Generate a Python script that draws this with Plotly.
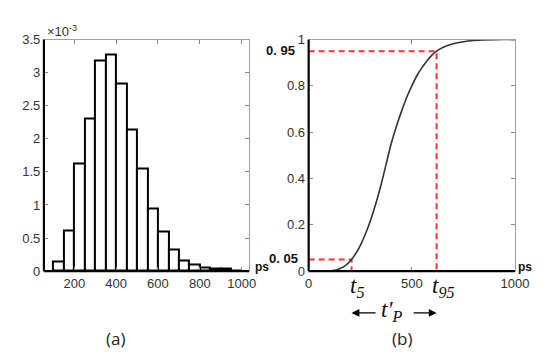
import plotly.graph_objects as go

# ---------------- data ----------------
bin_left = [100, 150, 200, 250, 300, 350, 400, 450, 500, 550,
            600, 650, 700, 750, 800, 850, 900, 950]
bin_width = 50
density_e3 = [0.15, 0.61, 1.63, 2.30, 3.19, 3.27, 2.83, 2.14, 1.55, 0.95,
              0.59, 0.33, 0.16, 0.095, 0.055, 0.03, 0.035, 0.01]

cdf_t = [0, 80, 120, 150, 180, 208, 230, 250, 275, 300, 325, 350, 375, 400,
         425, 450, 475, 500, 525, 550, 575, 600, 620, 650, 700, 750, 800, 900, 1000]
cdf_v = [0, 0, 0.002, 0.01, 0.025, 0.05, 0.078, 0.11, 0.16, 0.22, 0.29,
         0.37, 0.46, 0.55, 0.625, 0.69, 0.75, 0.80, 0.845, 0.88, 0.91, 0.935,
         0.95, 0.966, 0.982, 0.991, 0.996, 1.0, 1.0]

t5, t95 = 208, 620
p5, p95 = 0.05, 0.95

hist_xticks = [200, 400, 600, 800, 1000]
hist_yticks = [0, 0.5, 1, 1.5, 2, 2.5, 3, 3.5]
hist_ytext = ["0", "0.5", "1", "1.5", "2", "2.5", "3", "3.5"]
cdf_xticks = [0, 500, 1000]
cdf_yticks = [0, 0.2, 0.4, 0.6, 0.8, 1]
cdf_ytext = ["0", "0.2", "0.4", "0.6", "0.8", "1"]

# ---------------- layout geometry ----------------
W, H = 550, 357
ax1 = [33 / W, 245 / W]
ax2 = [306.7 / W, 520 / W]
ydom = [(H - 267.3) / H, (H - 25.7) / H]

tickfont = dict(family="Liberation Sans, Arial, sans-serif", size=13, color="#333333")

fig = go.Figure()

centers = [b + bin_width / 2 for b in bin_left]
fig.add_trace(go.Bar(
    x=centers, y=density_e3, width=[bin_width] * len(centers),
    marker=dict(color="white", line=dict(color="black", width=2)),
    xaxis="x", yaxis="y", showlegend=False, hoverinfo="skip"))

red = "#ff3030"
fig.add_trace(go.Scatter(x=[0, t95, t95], y=[p95, p95, 0], mode="lines",
                         line=dict(color=red, width=2, dash="6px,4px"),
                         xaxis="x2", yaxis="y2", showlegend=False))
fig.add_trace(go.Scatter(x=[0, t5, t5], y=[p5, p5, 0], mode="lines",
                         line=dict(color=red, width=2, dash="6px,4px"),
                         xaxis="x2", yaxis="y2", showlegend=False))
fig.add_trace(go.Scatter(x=cdf_t, y=cdf_v, mode="lines",
                         line=dict(color="#333333", width=1.6, shape="spline", smoothing=1),
                         xaxis="x2", yaxis="y2", showlegend=False))

common_axis = dict(showgrid=False, zeroline=False, ticks="inside", ticklen=4,
                   tickcolor="#888888", linecolor="#a0a0a0", linewidth=1,
                   mirror="ticks", showline=True, tickfont=tickfont)

fig.update_layout(
    width=W, height=H, autosize=False,
    margin=dict(l=0, r=0, t=0, b=0),
    paper_bgcolor="white", plot_bgcolor="white",
    bargap=0,
    xaxis=dict(domain=ax1, range=[55, 1035], tickvals=hist_xticks, anchor="y", **common_axis),
    yaxis=dict(domain=ydom, range=[0, 3.5], tickvals=hist_yticks, ticktext=hist_ytext,
               anchor="x", **common_axis),
    xaxis2=dict(domain=ax2, range=[0, 1000], tickvals=cdf_xticks, anchor="y2", **common_axis),
    yaxis2=dict(domain=ydom, range=[0, 1], tickvals=cdf_yticks, ticktext=cdf_ytext,
                anchor="x2", **common_axis),
)

# thick black left & bottom axis lines
for dom in (ax1, ax2):
    fig.add_shape(type="line", xref="paper", yref="paper", x0=dom[0], x1=dom[0],
                  y0=ydom[0], y1=ydom[1], line=dict(color="black", width=2.2))
    fig.add_shape(type="line", xref="paper", yref="paper", x0=dom[0], x1=dom[1],
                  y0=ydom[0], y1=ydom[0], line=dict(color="black", width=2.2))

def px(x, y):
    return x / W, (H - y) / H

anns = []
x, y = px(34, 17)
anns.append(dict(x=x, y=y, text="×10<sup>-3</sup>", xanchor="left", yanchor="middle",
                 font=dict(family="Liberation Sans, Arial", size=13, color="#333333")))
bold = dict(family="Liberation Sans, Arial", size=12, color="#111111")
for cx in (258, 530):
    x, y = px(cx, 263)
    anns.append(dict(x=x, y=y, text="<b>ps</b>", xanchor="center", yanchor="middle", font=bold))
bold2 = dict(family="Liberation Sans, Arial", size=13, color="#111111")
x, y = px(295, 37.5)
anns.append(dict(x=x, y=y, text="<b>0. 95</b>", xanchor="right", yanchor="middle", font=bold2))
x, y = px(298, 254)
anns.append(dict(x=x, y=y, text="<b>0. 05</b>", xanchor="right", yanchor="middle", font=bold2))

serif = dict(family="Liberation Serif, Times New Roman, serif", size=23, color="#111111")
_, y = px(0, 284)
anns.append(dict(x=t5, xref="x2", y=y, yref="paper", text="<i>t</i><sub><i>5</i></sub>",
                 xanchor="center", yanchor="middle", xshift=5, font=serif))
anns.append(dict(x=t95, xref="x2", y=y, yref="paper", text="<i>t</i><sub><i>95</i></sub>",
                 xanchor="center", yanchor="middle", xshift=6, font=serif))
_, y = px(0, 311)
anns.append(dict(x=t5, xref="x2", y=y, yref="paper", text=" ", showarrow=True,
                 ax=27, ay=0, arrowhead=2, arrowsize=1.2, arrowwidth=1.3, arrowcolor="black"))
anns.append(dict(x=t95, xref="x2", y=y, yref="paper", text=" ", showarrow=True,
                 ax=-26, ay=0, arrowhead=2, arrowsize=1.2, arrowwidth=1.3, arrowcolor="black"))
_, y = px(0, 309)
anns.append(dict(x=(t5 + t95) / 2, xref="x2", y=y, yref="paper",
                 text="<i>t′</i><sub><i>P</i></sub>", xanchor="center", yanchor="middle",
                 xshift=-3, font=serif))
cap = dict(family="Open Sans, Lato, sans-serif", size=17, color="#222222")
for cx, label in ((107, "(a)"), (403, "(b)")):
    x, y = px(cx, 338)
    anns.append(dict(x=x, y=y, text=label, xanchor="center", yanchor="middle", font=cap))

for a in anns:
    a.setdefault("xref", "paper")
    a.setdefault("yref", "paper")
    a.setdefault("showarrow", False)
fig.update_layout(annotations=anns)

fig.write_html("out.html")
